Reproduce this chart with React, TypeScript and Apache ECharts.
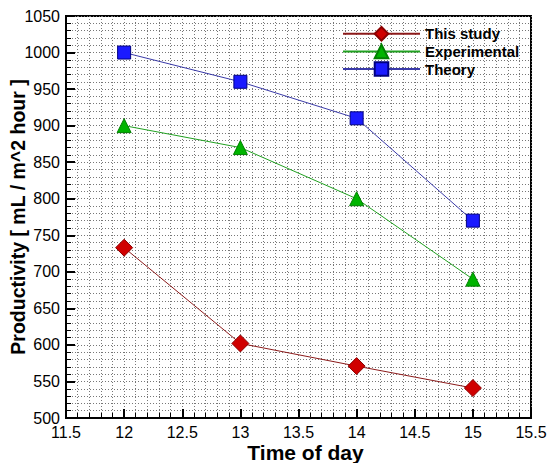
import React, { useEffect, useRef } from "react";
import * as echarts from "echarts";

const hours = [12, 13, 14, 15];
const thisStudy = [733, 602, 571, 541];
const experimental = [900, 870, 800, 690];
const theory = [1000, 960, 910, 770];

const FONT = "'Liberation Sans', Arial, sans-serif";

export default function App() {
  const ref = useRef<HTMLDivElement>(null);
  useEffect(() => {
    if (!ref.current) return;
    const chart = echarts.init(ref.current, undefined, { renderer: "svg" });
    const gridLine = { show: true, lineStyle: { color: "#777", width: 1, type: [1, 2] as any } };
    const pair = (arr: number[]) => hours.map((h, i) => [h, arr[i]]);
    chart.setOption({
      animation: false,
      backgroundColor: "#fff",
      textStyle: { fontFamily: FONT, color: "#000" },
      grid: {
        left: 66, right: 16, top: 16, bottom: 45,
        containLabel: false, outerBoundsMode: "none",
        show: true, borderColor: "#000", borderWidth: 2, backgroundColor: "transparent",
      },
      legend: {
        orient: "vertical",
        left: 337,
        top: 21,
        itemWidth: 77,
        itemHeight: 17,
        itemGap: 2,
        textStyle: { fontFamily: FONT, fontSize: 15, fontWeight: "bold", color: "#000" },
        data: ["This study", "Experimental", "Theory"],
      },
      xAxis: {
        type: "value",
        min: 11.5,
        max: 15.5,
        interval: 0.5,
        name: "Time of day",
        nameLocation: "middle",
        nameGap: 24,
        nameMoveOverlap: false,
        nameTextStyle: { fontFamily: FONT, fontSize: 21, fontWeight: "bold", color: "#000", verticalAlign: "top", padding: [0, 0, 0, 14] },
        axisLine: { show: true, onZero: false, lineStyle: { color: "#000", width: 2 } },
        axisTick: { show: true, inside: true, length: 9, lineStyle: { color: "#000", width: 2 } },
        minorTick: { show: true, splitNumber: 5, length: 5, lineStyle: { color: "#000", width: 1 } },
        axisLabel: { fontFamily: FONT, fontSize: 16, color: "#000", margin: 6, formatter: (v: number) => String(v) },
        splitLine: gridLine,
        minorSplitLine: gridLine,
      },
      yAxis: {
        type: "value",
        min: 500,
        max: 1050,
        interval: 50,
        name: "Productivity [ mL / m^2 hour ]",
        nameLocation: "middle",
        nameGap: 38,
        nameMoveOverlap: false,
        nameTextStyle: { fontFamily: FONT, fontSize: 19.5, fontWeight: "bold", color: "#000", verticalAlign: "bottom" },
        axisLine: { show: true, onZero: false, lineStyle: { color: "#000", width: 2 } },
        axisTick: { show: true, inside: true, length: 9, lineStyle: { color: "#000", width: 2 } },
        minorTick: { show: true, splitNumber: 5, length: 5, lineStyle: { color: "#000", width: 1 } },
        axisLabel: { fontFamily: FONT, fontSize: 16, color: "#000", margin: 6, formatter: (v: number) => String(v) },
        splitLine: gridLine,
        minorSplitLine: gridLine,
      },
      series: [
        {
          name: "This study",
          type: "line",
          data: pair(thisStudy),
          symbol: "diamond",
          symbolSize: 17,
          lineStyle: { color: "#8b1a1a", width: 1 },
          itemStyle: { color: "#d00000", borderColor: "#8b0000", borderWidth: 1 },
          z: 5,
        },
        {
          name: "Experimental",
          type: "line",
          data: pair(experimental),
          symbol: "triangle",
          symbolSize: 14,
          lineStyle: { color: "#20a020", width: 1 },
          itemStyle: { color: "#00b400", borderColor: "#008000", borderWidth: 1 },
          z: 5,
        },
        {
          name: "Theory",
          type: "line",
          data: pair(theory),
          symbol: "rect",
          symbolSize: 13,
          lineStyle: { color: "#3a3aa8", width: 1 },
          itemStyle: { color: "#1a1aff", borderColor: "#000080", borderWidth: 1 },
          z: 5,
        },
      ],
    });
    return () => chart.dispose();
  }, []);
  return <div ref={ref} style={{ width: 547, height: 463, position: "absolute", left: 0, top: 0 }} />;
}
